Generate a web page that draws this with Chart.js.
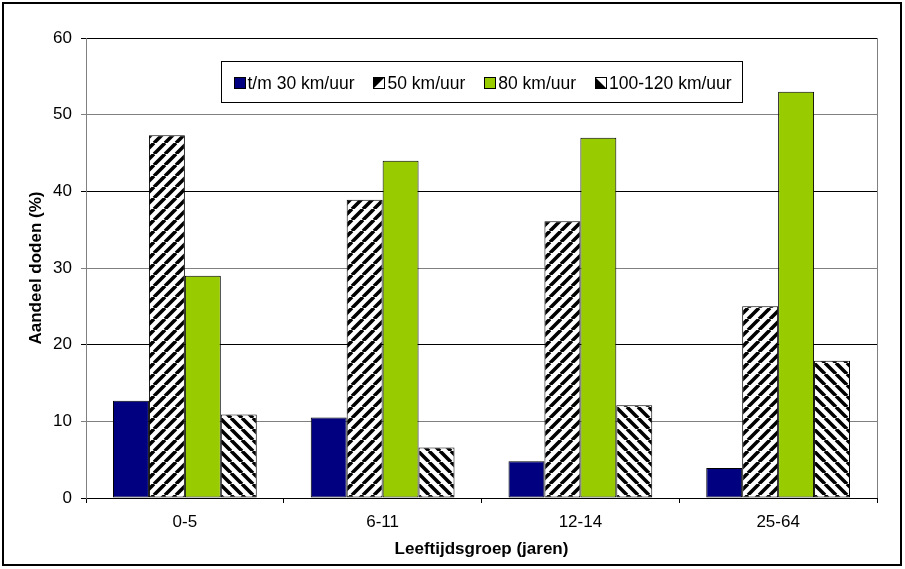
<!DOCTYPE html>
<html>
<head>
<meta charset="utf-8">
<script src="https://cdn.jsdelivr.net/npm/chart.js@4.4.0/dist/chart.umd.min.js"></script>
<style>
  html, body { margin: 0; padding: 0; background: #fff; }
  #wrap { width: 905px; height: 569px; position: relative; }
</style>
</head>
<body>
<div id="wrap"><canvas id="c" width="905" height="569"></canvas></div>
<script>
// Share of road deaths (%) per age group and speed limit
const ageGroups = ['0-5', '6-11', '12-14', '25-64'];
const seriesNames = ['t/m 30 km/uur', '50 km/uur', '80 km/uur', '100-120 km/uur'];
const upTo30 = [12.7, 10.5, 4.8, 3.9];
const kmh50 = [47.3, 38.9, 36.1, 25.0];
const kmh80 = [29.0, 44.0, 47.0, 53.0];
const kmh100to120 = [10.9, 6.6, 12.1, 17.9];
const yTicks = [0, 10, 20, 30, 40, 50, 60];

const FONT = '"Liberation Sans", Arial, sans-serif';
Chart.defaults.font.family = FONT;
Chart.defaults.color = '#000';

// black-on-white diagonal hatching
function hatch(dir) {
  const s = 11;
  const c = document.createElement('canvas');
  c.width = s; c.height = s;
  const g = c.getContext('2d');
  g.fillStyle = '#fff';
  g.fillRect(0, 0, s, s);
  g.strokeStyle = '#000';
  g.lineWidth = 3.6;
  g.beginPath();
  for (let k = -1; k <= 1; k++) {
    if (dir === 'up') { g.moveTo(k * s, s); g.lineTo(k * s + s, 0); }
    else { g.moveTo(k * s, 0); g.lineTo(k * s + s, s); }
  }
  g.stroke();
  return g.createPattern(c, 'repeat');
}

const fills = ['#000080', hatch('up'), '#99CC00', hatch('down')];
const values = [upTo30, kmh50, kmh80, kmh100to120];

const datasets = seriesNames.map((name, i) => ({
  label: name,
  data: values[i],
  backgroundColor: fills[i],
  borderColor: '#000',
  borderWidth: 1,
  borderSkipped: false,
  barPercentage: 1,
  categoryPercentage: 0.727
}));

// legend box inside the plot, outer frame and right plot edge
const decor = {
  id: 'decor',
  beforeDraw(chart) {
    const ctx = chart.ctx;
    ctx.save();
    ctx.fillStyle = '#fff';
    ctx.fillRect(0, 0, chart.width, chart.height);
    ctx.restore();
  },
  afterDraw(chart) {
    const { ctx, chartArea: a } = chart;
    ctx.save();
    // right edge of plot area
    ctx.strokeStyle = '#808080';
    ctx.lineWidth = 1;
    ctx.beginPath();
    ctx.moveTo(Math.round(a.right) + 0.5, a.top);
    ctx.lineTo(Math.round(a.right) + 0.5, a.bottom);
    ctx.stroke();

    // legend
    ctx.font = '17.5px ' + FONT;
    const sq = 12, gapText = 2, gapItem = 19, padL = 12, padR = 11;
    const items = chart.data.datasets.map((d, i) => ({ label: d.label, fill: d.backgroundColor, hatch: i === 1 ? 'up' : (i === 3 ? 'down' : null), w: ctx.measureText(d.label).width }));
    let total = padL + padR;
    items.forEach((it, i) => { total += sq + gapText + it.w + (i < items.length - 1 ? gapItem : 0); });
    const bx = Math.round(a.left + 135) + 0.5, by = Math.round(a.top + 23) + 0.5, bh = 41;
    ctx.fillStyle = '#fff';
    ctx.fillRect(bx, by, total, bh);
    ctx.strokeStyle = '#000';
    ctx.lineWidth = 1;
    ctx.strokeRect(bx, by, Math.round(total), bh);
    let x = bx + padL;
    const cy = by + bh / 2 + 1;
    ctx.textBaseline = 'middle';
    ctx.textAlign = 'left';
    items.forEach(it => {
      const sx = Math.round(x), sy = Math.round(cy - sq / 2);
      if (it.hatch) {
        // small swatch: one diagonal band
        ctx.fillStyle = '#fff';
        ctx.fillRect(sx, sy, sq, sq);
        ctx.fillStyle = '#000';
        ctx.beginPath();
        if (it.hatch === 'up') { ctx.moveTo(sx, sy + sq); ctx.lineTo(sx + sq, sy); ctx.lineTo(sx, sy); }
        else { ctx.moveTo(sx, sy); ctx.lineTo(sx + sq, sy + sq); ctx.lineTo(sx, sy + sq); }
        ctx.closePath();
        ctx.fill();
      } else {
        ctx.fillStyle = it.fill;
        ctx.fillRect(sx, sy, sq, sq);
      }
      ctx.strokeStyle = '#000';
      ctx.strokeRect(sx + 0.5, sy + 0.5, sq - 1, sq - 1);
      x += sq + gapText;
      ctx.fillStyle = '#000';
      ctx.fillText(it.label, x, cy + 1);
      x += it.w + gapItem;
    });

    // outer frame
    ctx.strokeStyle = '#000';
    ctx.lineWidth = 2;
    ctx.strokeRect(3, 3, 898, 562);
    ctx.restore();
  }
};

new Chart(document.getElementById('c'), {
  type: 'bar',
  data: { labels: ageGroups, datasets },
  options: {
    responsive: false,
    animation: false,
    layout: { padding: { left: 0, top: 38, right: 28, bottom: 0 } },
    plugins: { legend: { display: false }, tooltip: { enabled: false } },
    scales: {
      x: {
        offset: true,
        grid: { display: true, drawOnChartArea: false, drawTicks: true, tickLength: 5, color: '#000', offset: true },
        border: { display: true, color: '#000', width: 1 },
        ticks: { font: { size: 17 }, padding: 9, color: '#000' },
        title: { display: true, text: 'Leeftijdsgroep (jaren)', font: { size: 17, weight: 'bold' }, padding: { top: 0, bottom: 9 }, color: '#000' },
        afterFit(scale) { scale.height = 71; }
      },
      y: {
        min: yTicks[0],
        max: yTicks[yTicks.length - 1],
        afterBuildTicks(scale) { scale.ticks = yTicks.map(v => ({ value: v })); },
        grid: {
          color: ctx => (ctx.tick && (ctx.tick.value / 10) % 2 === 1) ? '#808080' : '#000',
          tickLength: 5,
          drawTicks: true
        },
        border: { display: true, color: '#808080', width: 1 },
        ticks: { font: { size: 17 }, padding: 9, color: '#000' },
        title: { display: true, text: 'Aandeel doden (%)', font: { size: 17, weight: 'bold' }, padding: { top: 26, bottom: 0 }, color: '#000' },
        afterFit(scale) { scale.width = 86; }
      }
    }
  },
  plugins: [decor]
});
</script>
</body>
</html>
